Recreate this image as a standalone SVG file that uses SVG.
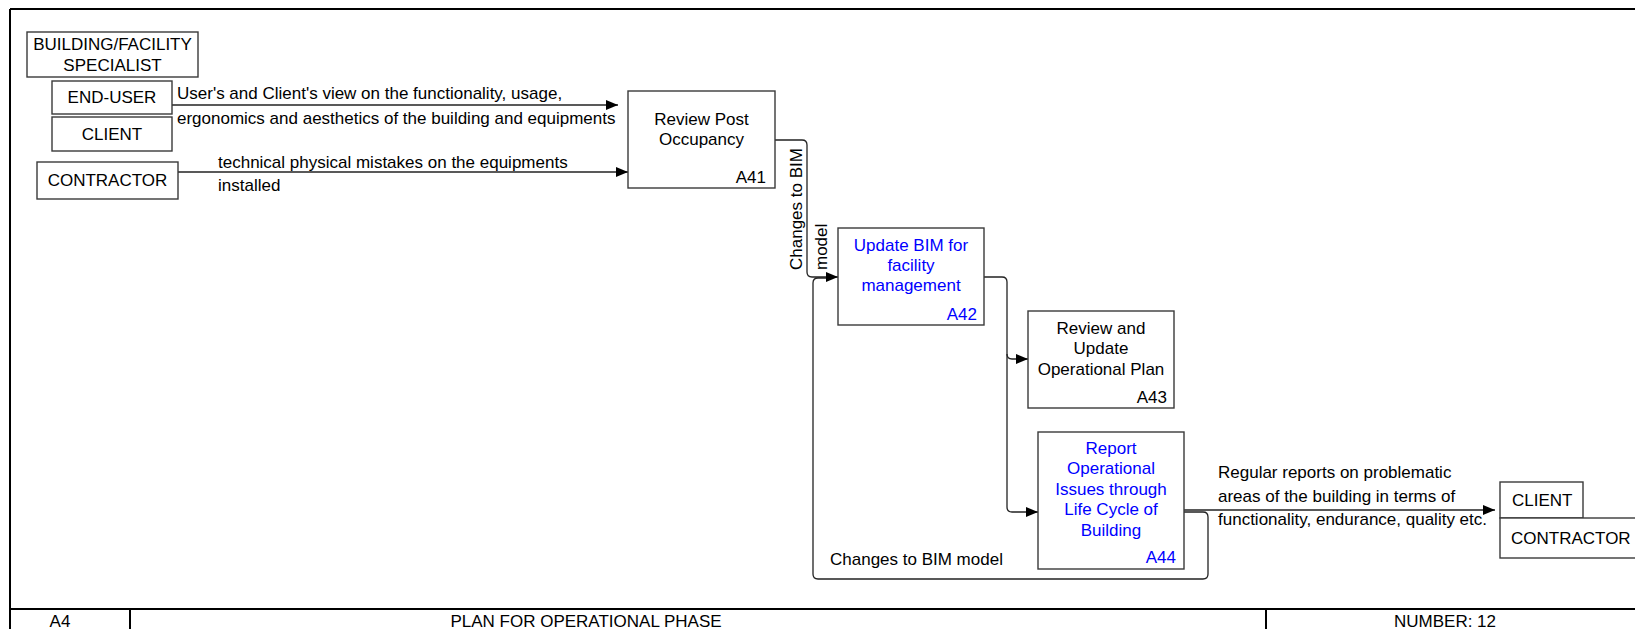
<svg xmlns="http://www.w3.org/2000/svg" width="1635" height="629" viewBox="0 0 1635 629">
  <style>
    .bg { fill: #ffffff; }
    .frame { fill: none; stroke: #000; stroke-width: 2; }
    .box { fill: #ffffff; stroke: #3a3a3a; stroke-width: 1.4; }
    .t { font-family: "Liberation Sans", Arial, sans-serif; font-size: 17px; fill: #000; }
    .blue { fill: #0000ff; }
    .c { text-anchor: middle; }
    .r { text-anchor: end; }
    .conn { fill: none; stroke: #222; stroke-width: 1.3; }
  </style>
  <defs>
    <marker id="arr" markerWidth="12" markerHeight="10" refX="12" refY="5" orient="auto" markerUnits="userSpaceOnUse">
      <path d="M0,0 L12,5 L0,10 z" fill="#000"/>
    </marker>
  </defs>

  <rect class="bg" x="0" y="0" width="1635" height="629"/>

  <!-- sheet frame and title row -->
  <g id="frame">
    <path class="frame" d="M10,9 H1635 M10,9 V629 M10,609 H1635 M130,609 V629 M1266,609 V629"/>
    <text class="t c" x="60" y="627">A4</text>
    <text class="t c" x="586" y="627">PLAN FOR OPERATIONAL PHASE</text>
    <text class="t c" x="1445" y="627">NUMBER: 12</text>
  </g>

  <!-- connectors -->
  <g id="connectors">
    <path class="conn" d="M172,105 H618" marker-end="url(#arr)"/>
    <path class="conn" d="M178,172 H628" marker-end="url(#arr)"/>
    <path class="conn" d="M775,140 H802 Q807,140 807,145 V272 Q807,277 812,277 H838" marker-end="url(#arr)"/>
    <path class="conn" d="M984,277 H1002 Q1007,277 1007,282 V354 Q1007,359 1012,359 H1028" marker-end="url(#arr)"/>
    <path class="conn" d="M1007,354 V507 Q1007,512 1012,512 H1038" marker-end="url(#arr)"/>
    <path class="conn" d="M1184,510 H1495" marker-end="url(#arr)"/>
    <path class="conn" d="M1184,512 H1203 Q1208,512 1208,517 V574 Q1208,579 1203,579 H818 Q813,579 813,574 V283 Q813,278 818,278 H826"/>

    <text class="t" x="177" y="99">User's and Client's view on the functionality, usage,</text>
    <text class="t" x="177" y="124">ergonomics and aesthetics of the building and equipments</text>
    <text class="t" x="218" y="168">technical physical mistakes on the equipments</text>
    <text class="t" x="218" y="191">installed</text>
    <text class="t" transform="translate(802,270) rotate(-90)">Changes to BIM</text>
    <text class="t" transform="translate(827,270) rotate(-90)">model</text>
    <text class="t" x="830" y="565">Changes to BIM model</text>
    <text class="t" x="1218" y="478">Regular reports on problematic</text>
    <text class="t" x="1218" y="502">areas of the building in terms of</text>
    <text class="t" x="1218" y="525">functionality, endurance, quality etc.</text>
  </g>

  <!-- external parties -->
  <g id="building-facility-specialist">
    <rect class="box" x="27" y="32" width="171" height="45"/>
    <text class="t c" x="112.5" y="50">BUILDING/FACILITY</text>
    <text class="t c" x="112.5" y="71">SPECIALIST</text>
  </g>
  <g id="end-user">
    <rect class="box" x="52" y="81" width="120" height="33"/>
    <text class="t c" x="112" y="103">END-USER</text>
  </g>
  <g id="client-in">
    <rect class="box" x="52" y="117" width="120" height="34"/>
    <text class="t c" x="112" y="140">CLIENT</text>
  </g>
  <g id="contractor-in">
    <rect class="box" x="37" y="162" width="141" height="37"/>
    <text class="t c" x="107.5" y="186">CONTRACTOR</text>
  </g>
  <g id="client-out">
    <rect class="box" x="1500" y="482" width="83" height="36"/>
    <text class="t" x="1512" y="506">CLIENT</text>
  </g>
  <g id="contractor-out">
    <rect class="box" x="1500" y="518" width="160" height="40"/>
    <text class="t" x="1511" y="544">CONTRACTOR</text>
  </g>

  <!-- activities -->
  <g id="A41">
    <rect class="box" x="628" y="91" width="147" height="97"/>
    <text class="t c" x="701.5" y="125">Review Post</text>
    <text class="t c" x="701.5" y="145">Occupancy</text>
    <text class="t r" x="766" y="183">A41</text>
  </g>
  <g id="A42">
    <rect class="box" x="838" y="228" width="146" height="97"/>
    <text class="t c blue" x="911" y="251">Update BIM for</text>
    <text class="t c blue" x="911" y="271">facility</text>
    <text class="t c blue" x="911" y="291">management</text>
    <text class="t r blue" x="977" y="320">A42</text>
  </g>
  <g id="A43">
    <rect class="box" x="1028" y="311" width="146" height="97"/>
    <text class="t c" x="1101" y="334">Review and</text>
    <text class="t c" x="1101" y="354">Update</text>
    <text class="t c" x="1101" y="375">Operational Plan</text>
    <text class="t r" x="1167" y="403">A43</text>
  </g>
  <g id="A44">
    <rect class="box" x="1038" y="432" width="146" height="137"/>
    <text class="t c blue" x="1111" y="454">Report</text>
    <text class="t c blue" x="1111" y="474">Operational</text>
    <text class="t c blue" x="1111" y="495">Issues through</text>
    <text class="t c blue" x="1111" y="515">Life Cycle of</text>
    <text class="t c blue" x="1111" y="536">Building</text>
    <text class="t r blue" x="1176" y="563">A44</text>
  </g>
</svg>
